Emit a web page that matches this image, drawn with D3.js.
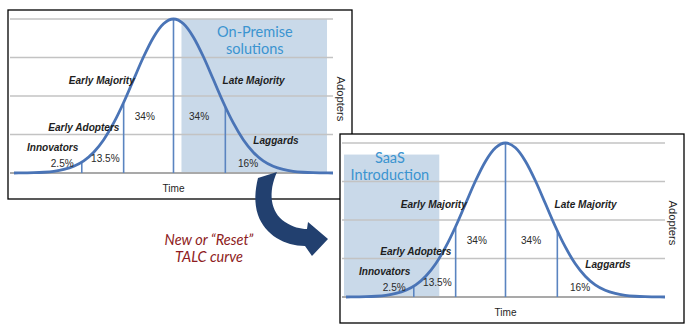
<!DOCTYPE html>
<html><head><meta charset="utf-8">
<script src="https://cdn.jsdelivr.net/npm/d3@7"></script>
<style>
html,body{margin:0;padding:0;background:#fff;}
svg{display:block;}
</style></head>
<body>
<svg id="c" width="691" height="336"></svg>
<script>
// ---------- data ----------
const timePoints = [-4,-3.75,-3.5,-3.25,-3,-2.75,-2.5,-2.25,-2,-1.75,-1.5,-1.25,-1,-0.75,-0.5,-0.25,0,0.25,0.5,0.75,1,1.25,1.5,1.75,2,2.25,2.5,2.75,3,3.25,3.5,3.75,4];
const adopterDensity = [0,0.1,0.2,0.5,1.1,2.3,4.4,7.9,13.5,21.6,32.5,45.8,60.7,75.5,88.2,96.9,100,96.9,88.2,75.5,60.7,45.8,32.5,21.6,13.5,7.9,4.4,2.3,1.1,0.5,0.2,0.1,0];
const dividerTimes = [-2.3,-1.25,0,1.3];
const dividerDensity = [7,45,100,43];
const segmentNames = ["Innovators","Early Adopters","Early Majority","Late Majority","Laggards"];
const segmentShares = ["2.5%","13.5%","34%","34%","16%"];
const gridLevels = [0,25,50,75,100];
const chartTitles = ["On-Premise solutions","SaaS Introduction"];
const xAxisLabel = "Time";
const yAxisLabel = "Adopters";
const arrowCaption = ["New or \u201CReset\u201D","TALC curve"];

// ---------- layout (positions in time / density units) ----------
const nameAnchors = [[-3.03,14.3],[-2.25,27],[-1.8,57.8],[2.01,57.5],[2.57,19]];
const shareAnchors = [[-2.79,3.8],[-1.71,7.1],[-0.72,34.2],[0.64,34.2],[1.87,3.8]];
const shadeRanges = [
  {t0:0.2, t1:3.85, d1:100, title:[2.04,[88.3,77.3]]},
  {t0:-4.05, t1:-1.66, d1:92.5, title:[-2.9,[86.8,75.8]]}
];
const offsets = [[0,0],[332,124]];

const svg = d3.select("#c");
const x = d3.scaleLinear().domain([-4.1,4.0]).range([10,333]);
const y = d3.scaleLinear().domain([0,100]).range([173,19]);

const blue = "#4a74b6";
const line = d3.line().x((d,i)=>x(timePoints[i])).y(d=>y(d)).curve(d3.curveMonotoneX);

function drawChart(k){
  const g = svg.append("g").attr("transform",`translate(${offsets[k][0]},${offsets[k][1]})`);
  g.append("rect").attr("x",8).attr("y",10).attr("width",344).attr("height",189)
    .attr("fill","#fff").attr("stroke","#000").attr("stroke-width",1.3);
  const s = shadeRanges[k];
  g.append("rect").attr("x",x(s.t0)).attr("y",y(s.d1))
    .attr("width",x(s.t1)-x(s.t0)).attr("height",y(0)-y(s.d1)).attr("fill","#c9d9e9");
  // gridlines
  g.selectAll("line.grid").data(gridLevels).join("line")
    .attr("x1",x.range()[0]).attr("x2",x.range()[1])
    .attr("y1",d=>y(d)).attr("y2",d=>y(d))
    .attr("stroke",d=>d===0?"#a9a9a9":"#c3c3c3").attr("stroke-width",d=>d===0?2:1.3);
  // dividers
  g.selectAll("line.div").data(dividerTimes).join("line")
    .attr("x1",d=>x(d)).attr("x2",d=>x(d))
    .attr("y1",y(0)).attr("y2",(d,i)=>y(dividerDensity[i]))
    .attr("stroke","#5a84c0").attr("stroke-width",1.6);
  // curve
  g.append("path").datum(adopterDensity).attr("d",line)
    .attr("fill","none").attr("stroke",blue).attr("stroke-width",2.8);
  // segment names
  const lab = g.append("g").attr("font-family","Liberation Sans, Arial, sans-serif");
  segmentNames.forEach((n,i)=>{
    const [t,d] = nameAnchors[i];
    lab.append("text").attr("transform",`translate(${x(t)},${y(d)}) scale(0.9,1)`)
      .attr("text-anchor","middle").attr("font-size",11.2).attr("font-weight","bold")
      .attr("font-style","italic").attr("fill","#1e1e1e").text(n);
  });
  segmentShares.forEach((n,i)=>{
    const [t,d] = shareAnchors[i];
    lab.append("text").attr("transform",`translate(${x(t)},${y(d)}) scale(0.9,1)`)
      .attr("text-anchor","middle").attr("font-size",11.2)
      .attr("fill","#2a2a2a").text(n);
  });
  lab.append("text").attr("transform",`translate(${x(0)},192) scale(0.9,1)`)
    .attr("text-anchor","middle").attr("font-size",11.2).attr("fill","#1e1e1e").text(xAxisLabel);
  lab.append("text").attr("transform",`translate(341,99) rotate(90)`)
    .attr("text-anchor","middle").attr("dominant-baseline","central")
    .attr("font-size",11.2).attr("fill","#1e1e1e").text(yAxisLabel);
  // title in shaded area
  const words = chartTitles[k].split(" ");
  const [tt,ds] = s.title;
  words.forEach((w,i)=>{
    g.append("text").attr("x",x(tt)).attr("y",y(ds[i]))
      .attr("text-anchor","middle").attr("font-family","Lato, sans-serif")
      .attr("font-size",14.5).attr("fill","#3b94d0").text(w);
  });
}
drawChart(0);
drawChart(1);

// curved arrow
svg.append("path")
  .attr("d","M258,178 L277,172 C268,192 270,212 285,222 C293,227 300,229 307,229 L308,222 L328,239 L312,256 L305,246 C285,246 265,235 258,215 C254,203 255,190 258,178 Z")
  .attr("fill","#22406f");

arrowCaption.forEach((c,i)=>{
  svg.append("text").attr("x",209).attr("y",245+i*17)
    .attr("text-anchor","middle").attr("font-family","Lato, sans-serif")
    .attr("font-style","italic").attr("font-size",14.5).attr("fill","#8e1c22").text(c);
});
</script>
</body></html>
